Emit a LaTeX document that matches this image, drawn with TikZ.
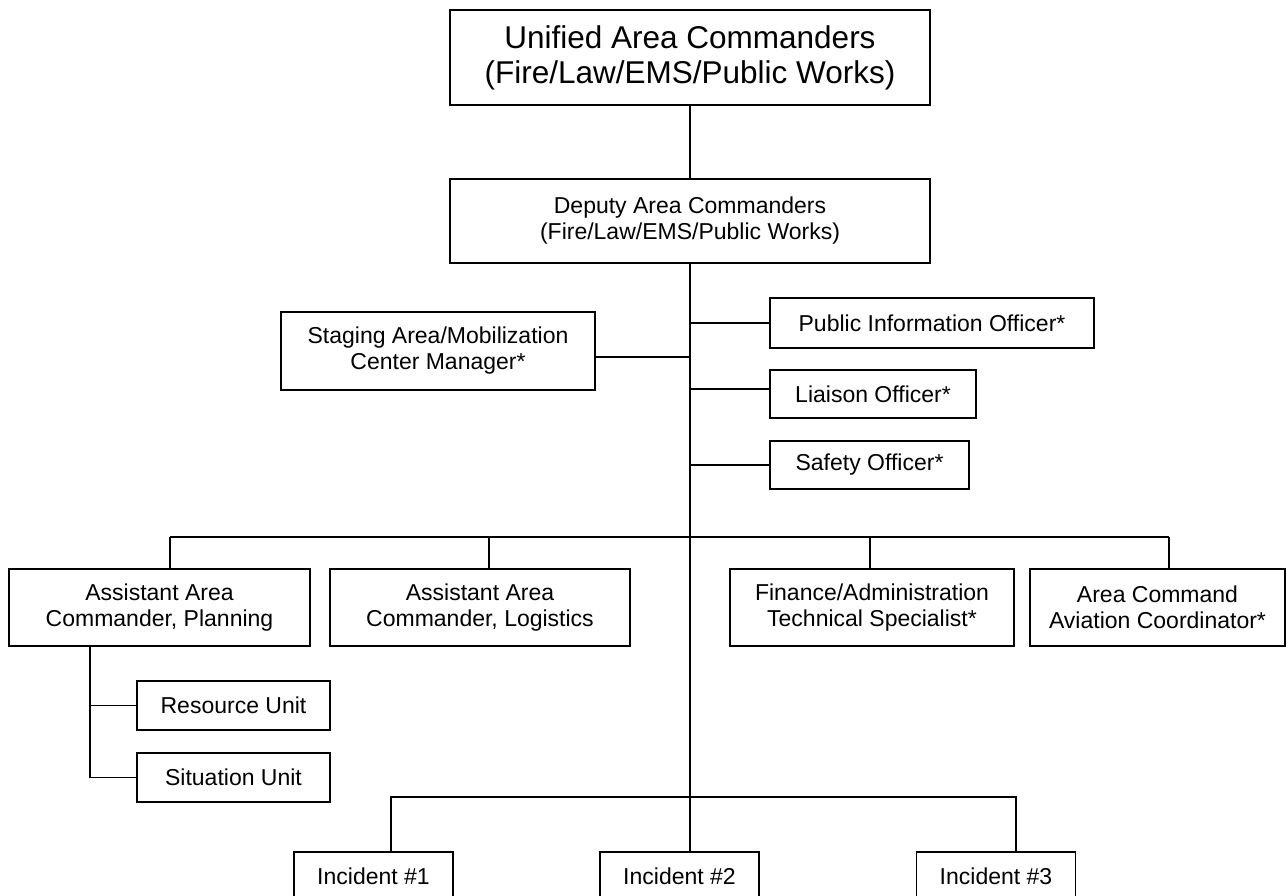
\documentclass[tikz,border=0pt]{standalone}
\usepackage{fontspec}
\setmainfont{Liberation Sans}
\usepackage{tikz}
\usetikzlibrary{calc}

\tikzstyle{orgbox} = [
    draw=black,
    line width=1.8pt,
    rectangle,
    align=center,
    inner sep=0pt,
    font=\fontsize{23}{26}\selectfont
    ]
\tikzstyle{topbox} = [
    orgbox,
    font=\fontsize{31.5}{35}\selectfont
    ]
\tikzstyle{link} = [
    line width=1.7pt
    ]

\begin{document}
\begin{tikzpicture}[x=1pt,y=-1pt]
\clip (0,0) rectangle (1287,896);

% command staff
\node [topbox, minimum width=480pt, minimum height=95pt] (unified) at (690,57.5)
    {Unified Area Commanders\\(Fire/Law/EMS/Public Works)};
\node [orgbox, minimum width=480pt, minimum height=84pt] (deputy) at (690,221)
    {Deputy Area Commanders\\(Fire/Law/EMS/Public Works)};
\node [orgbox, minimum width=314pt, minimum height=78pt] (staging) at (438,351)
    {Staging Area/Mobilization\\Center Manager*};
\node [orgbox, minimum width=324pt, minimum height=50pt] (pio) at (932,323)
    {Public Information Officer*};
\node [orgbox, minimum width=206pt, minimum height=48pt] (liaison) at (873,394)
    {Liaison Officer*};
\node [orgbox, minimum width=199pt, minimum height=48pt] (safety) at (869.5,465)
    {Safety Officer*};

% general staff
\node [orgbox, minimum width=301pt, minimum height=77pt] (plan) at (159.5,607.5)
    {Assistant Area\\Commander, Planning};
\node [orgbox, minimum width=300pt, minimum height=77pt] (logist) at (480,607.5)
    {Assistant Area\\Commander, Logistics};
\node [orgbox, minimum width=284pt, minimum height=77pt] (finance) at (872,607.5)
    {Finance/Administration\\Technical Specialist*};
\node [orgbox, minimum width=255pt, minimum height=77pt] (aviation) at (1157.5,607.5)
    {Area Command\\Aviation Coordinator*};
\node [orgbox, minimum width=193pt, minimum height=49pt] (resource) at (233.5,705.5)
    {Resource Unit};
\node [orgbox, minimum width=193pt, minimum height=49pt] (situation) at (233.5,777.5)
    {Situation Unit};

% incidents
\node [orgbox, minimum width=159pt, minimum height=48pt] (inc1) at (373.5,876) {Incident \#1};
\node [orgbox, minimum width=159pt, minimum height=48pt] (inc2) at (679.5,876) {Incident \#2};
\node [orgbox, minimum width=159pt, minimum height=48pt] (inc3) at (996,876) {Incident \#3};

\coordinate (busplan) at (170,537);
\coordinate (buslog) at (489,537);
\coordinate (busfin) at (870,537);
\coordinate (busavi) at (1169,537);
\coordinate (plantrunk) at (90,646);
\coordinate (incleft) at (391,797);
\coordinate (incright) at (1016,797);

\draw[link] (unified) -- (deputy);
\draw[link] (deputy.south) -- (deputy.south |- inc2.north);
\draw[link] ([yshift=-6pt]staging.east) -- ([yshift=-6pt]staging.east -| deputy.south);
\draw[link] (pio.west) -- (pio.west -| deputy.south);
\draw[link] ([yshift=5pt]liaison.west) -- ([yshift=5pt]liaison.west -| deputy.south);
\draw[link] (safety.west) -- (safety.west -| deputy.south);

\draw[link] (busplan) -- (busavi);
\foreach \t/\b in {busplan/plan, buslog/logist, busfin/finance, busavi/aviation}
    \draw[link] (\t) -- (\t |- \b.north);

\draw[link] (plantrunk) |- (situation.west);
\draw[link] (plantrunk |- resource.west) -- (resource.west);

\draw[link] (incleft |- inc1.north) -- (incleft) -- (incright) -- (incright |- inc3.north);
\end{tikzpicture}
\end{document}
